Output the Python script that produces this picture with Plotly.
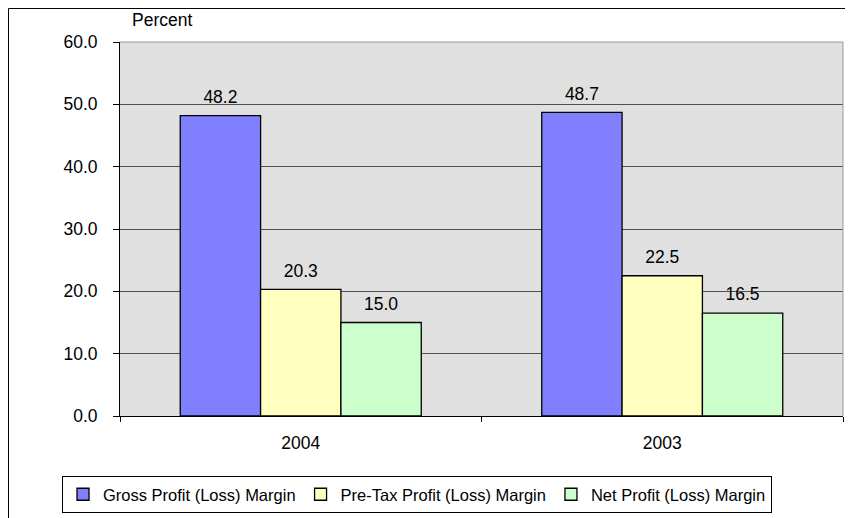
import plotly.graph_objects as go

# === data ===
years = ["2004", "2003"]
gross_margin = [48.2, 48.7]
pretax_margin = [20.3, 22.5]
net_margin = [15.0, 16.5]

series = [
    ("Gross Profit (Loss) Margin", gross_margin, "#8080FF"),
    ("Pre-Tax Profit (Loss) Margin", pretax_margin, "#FFFFC0"),
    ("Net Profit (Loss) Margin", net_margin, "#CCFFCC"),
]

fig = go.Figure()
for name, vals, color in series:
    fig.add_trace(go.Bar(
        x=years,
        y=vals,
        name=name,
        marker=dict(color=color, line=dict(color="black", width=1.3)),
    ))

# value labels, grouped the same way as the bars
for name, vals, color in series:
    fig.add_trace(go.Scatter(
        x=years,
        y=vals,
        mode="markers+text",
        marker=dict(size=12, opacity=0),
        text=[f"{v:.1f}" for v in vals],
        textposition="top center",
        textfont=dict(size=17.5, color="black"),
        showlegend=False,
        hoverinfo="skip",
        cliponaxis=False,
    ))

# page body adds an 8px offset; plot area lands at x 120..843, y 42..416 in the window
W, H = 845, 510
fig.update_layout(
    width=W, height=H,
    margin=dict(l=112, r=10, t=34, b=102, autoexpand=False),
    paper_bgcolor="white",
    plot_bgcolor="#E0E0E0",
    font=dict(family="Liberation Sans, Arial, sans-serif", size=17.5, color="black"),
    barmode="group",
    bargap=1/3,
    bargroupgap=0,
    scattermode="group",
    scattergap=1/3,
    showlegend=True,
    legend=dict(
        orientation="h",
        x=-0.0802, y=-0.2594, xanchor="left", yanchor="bottom",
        bgcolor="white", bordercolor="black", borderwidth=1,
        font=dict(size=16.5),
        itemwidth=30,
        tracegroupgap=0,
    ),
    xaxis=dict(
        type="category",
        showline=True, linecolor="black", linewidth=1,
        ticks="outside", tickson="boundaries", ticklen=5, tickcolor="black",
        ticklabelstandoff=11,
        showgrid=False,
        mirror=False,
    ),
    yaxis=dict(
        range=[0, 60], dtick=10, tickformat=".1f",
        showline=True, linecolor="black", linewidth=1,
        ticks="outside", ticklen=6, tickcolor="black",
        ticklabelstandoff=12,
        showgrid=True, gridcolor="#505050", gridwidth=1,
        zeroline=False,
    ),
    annotations=[dict(
        text="Percent", xref="paper", yref="paper",
        x=0.0138, y=1.0588, xanchor="left", yanchor="middle",
        showarrow=False, font=dict(size=17.5),
    )],
    shapes=[
        # outer frame (cropped on right/bottom)
        dict(type="line", xref="paper", yref="paper",
             x0=-0.1542, x1=1.1, y0=1.0896, y1=1.0896,
             line=dict(color="black", width=1)),
        dict(type="line", xref="paper", yref="paper",
             x0=-0.1542, x1=-0.1542, y0=1.0896, y1=-0.3,
             line=dict(color="black", width=1)),
        # light frame around plot area top/right
        dict(type="line", xref="paper", yref="paper",
             x0=0, x1=1, y0=1, y1=1, line=dict(color="#999999", width=1)),
        dict(type="line", xref="paper", yref="paper",
             x0=1, x1=1, y0=0, y1=1, line=dict(color="#999999", width=1)),
    ],
)

fig.write_html("out.html")
